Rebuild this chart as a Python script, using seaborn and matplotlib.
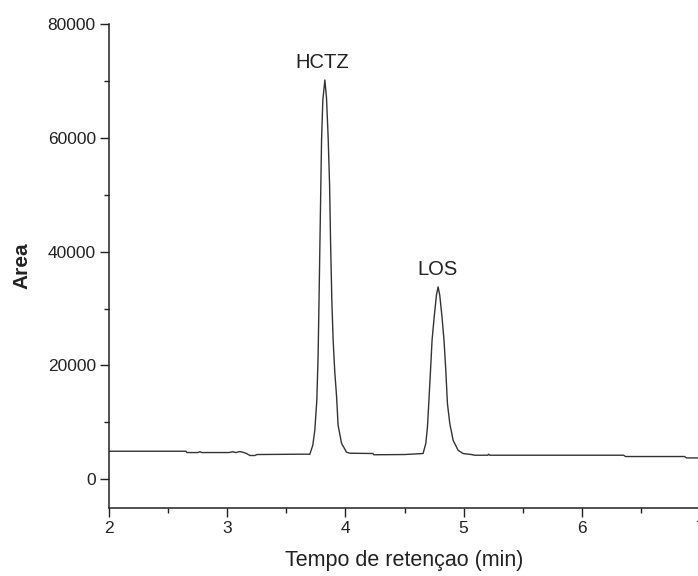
"""Chromatogram of HCTZ and LOS (retention time vs. area)."""

import matplotlib

matplotlib.use("Agg")

import matplotlib.pyplot as plt
import pandas as pd
import seaborn as sns
from matplotlib.ticker import MultipleLocator

# trace
TIME_MIN = [
    2.000, 2.651, 2.659, 2.752, 2.769, 2.786, 3.014, 3.048, 3.074, 3.107,
    3.141, 3.167, 3.192, 3.234, 3.251, 3.615, 3.699,
    3.724, 3.741, 3.758, 3.769, 3.778, 3.790, 3.798, 3.809, 3.826,
    3.840, 3.854, 3.866, 3.874, 3.885, 3.896, 3.910, 3.925, 3.938, 3.967,
    4.009, 4.037, 4.232, 4.240, 4.502, 4.657,
    4.680, 4.694, 4.705, 4.720, 4.733, 4.751, 4.770, 4.784,
    4.798, 4.817, 4.834, 4.849, 4.863, 4.883, 4.911, 4.953, 4.995, 5.066,
    5.094, 5.204, 5.212, 5.221, 6.353, 6.370, 6.869, 6.886, 7.000,
]
AREA = [
    4920, 4920, 4690, 4690, 4830, 4690, 4690, 4830, 4690, 4870,
    4690, 4480, 4170, 4170, 4340, 4400, 4400,
    5977, 8614, 13890, 21800, 33230, 49050, 59600, 66630, 70150,
    66980, 59950, 51690, 42000, 31470, 24440, 18810, 14590, 9490, 6330,
    4750, 4570, 4520, 4300, 4340, 4520,
    6280, 9190, 13310, 19160, 24440, 28530, 32350, 33800,
    32350, 28530, 24440, 19160, 13310, 9790, 6860, 5100, 4520, 4340,
    4220, 4220, 4400, 4220, 4220, 3990, 3990, 3745, 3745,
]

PEAK_NAMES = ["HCTZ", "LOS"]
PEAK_LABEL_X = [3.80, 4.78]
PEAK_LABEL_Y = [73300, 36900]

X_TICKS = [2, 3, 4, 5, 6, 7]
Y_TICKS = [0, 20000, 40000, 60000, 80000]

INK = "#222222"


def main() -> None:
    sns.set_theme(style="ticks")
    plt.rcParams.update(
        {
            "font.family": ["Liberation Sans", "DejaVu Sans"],
            "axes.edgecolor": INK,
            "axes.labelcolor": INK,
            "xtick.color": INK,
            "ytick.color": INK,
            "text.color": INK,
        }
    )

    df = pd.DataFrame({"time": TIME_MIN, "area": AREA})

    fig = plt.figure(figsize=(6.98, 5.76), dpi=100)
    ax = fig.add_axes([0.1562, 0.1186, 0.8467, 0.8398])

    sns.lineplot(data=df, x="time", y="area", ax=ax, color="#333333",
                 linewidth=1.0, estimator=None, sort=False)

    for name, x, y in zip(PEAK_NAMES, PEAK_LABEL_X, PEAK_LABEL_Y):
        ax.text(x, y, name, ha="center", va="center", fontsize=14.5, color=INK)

    ax.set_xlim(2, 7)
    ax.set_ylim(-5000, 80000)
    ax.set_xticks(X_TICKS)
    ax.set_yticks(Y_TICKS)
    ax.xaxis.set_minor_locator(MultipleLocator(0.5))
    ax.yaxis.set_minor_locator(MultipleLocator(10000))
    ax.tick_params(which="major", direction="out", length=6.5, width=1.0,
                   labelsize=12.5, pad=3)
    ax.tick_params(which="minor", direction="out", length=3.5, width=1.0)
    for lbl in ax.get_xticklabels():
        lbl.set_clip_on(False)

    ax.set_xlabel("Tempo de retençao (min)", fontsize=15.5, labelpad=10)
    ax.set_ylabel("Area", fontsize=15, fontweight="bold", labelpad=12)

    sns.despine(ax=ax, top=True, right=True)
    for side in ("left", "bottom"):
        ax.spines[side].set_linewidth(1.1)

    fig.savefig("out.png", dpi=100)
    plt.close(fig)


if __name__ == "__main__":
    main()
